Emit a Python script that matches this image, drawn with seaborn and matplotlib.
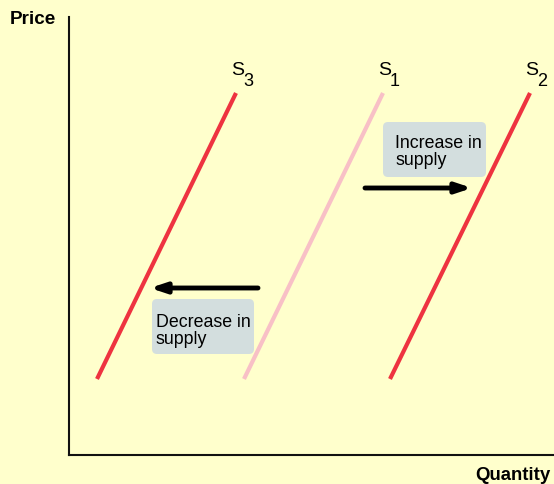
import numpy as np
import pandas as pd
import matplotlib
matplotlib.use('Agg')
import matplotlib.pyplot as plt
import seaborn as sns
from matplotlib.patches import FancyBboxPatch

# supply curves (quantity, price) endpoints
curve_names = ['S3', 'S1', 'S2']
curve_q_low = [28, 175, 321]
curve_q_high = [167, 314, 461]
curve_p_low = [76, 76, 76]
curve_p_high = [362, 362, 362]
curve_subs = ['3', '1', '2']
curve_colors = ['#EE3340', '#F8C0C6', '#EE3340']

# shift arrows: (start q, end q, price)
arrow_q_start = [296, 189]
arrow_q_end = [403, 81]
arrow_p = [267, 167]
box_texts = ['Increase in\nsupply', 'Decrease in\nsupply']

bg = '#FFFFCC'
sns.set_style('white')
plt.rcParams['font.family'] = ['Liberation Sans', 'DejaVu Sans']
plt.rcParams['text.color'] = 'black'

fig = plt.figure(figsize=(5.54, 4.84), dpi=100, facecolor=bg)
ax = fig.add_axes([69 / 554, 29 / 484, 485 / 554, 438 / 484])
ax.set_facecolor(bg)

rows = []
for name, q0, q1, p0, p1 in zip(curve_names, curve_q_low, curve_q_high, curve_p_low, curve_p_high):
    rows.append({'curve': name, 'q': q0, 'p': p0})
    rows.append({'curve': name, 'q': q1, 'p': p1})
df = pd.DataFrame(rows)
sns.lineplot(data=df, x='q', y='p', hue='curve', palette=dict(zip(curve_names, curve_colors)),
             linewidth=3, legend=False, ax=ax, solid_capstyle='butt')

# curve labels: S with a big, low subscript
for sub, q1, p1 in zip(curve_subs, curve_q_high, curve_p_high):
    ax.text(q1 + 2, p1 + 18, 'S', fontsize=14, ha='center', va='baseline')
    ax.text(q1 + 7, p1 + 7, sub, fontsize=13, ha='left', va='baseline')

# arrows
for qs, qe, p in zip(arrow_q_start, arrow_q_end, arrow_p):
    ax.annotate('', xy=(qe, p), xytext=(qs, p),
                arrowprops=dict(arrowstyle='-|>,head_length=0.9,head_width=0.3',
                                color='black', lw=3.5, shrinkA=0, shrinkB=0))

# text boxes (x, y, w, h) and text anchor
boxes = [(314, 278, 103, 55), (83, 101, 102, 55)]
text_pos = [(326, 320), (87, 141)]
for (bx, by, bw, bh), (tx, ty), txt in zip(boxes, text_pos, box_texts):
    ax.add_patch(FancyBboxPatch((bx + 5, by + 5), bw - 10, bh - 10,
                                boxstyle='round,pad=5', fc='#D3DEDE', ec='none'))
    ax.text(tx, ty, txt, fontsize=12.8, va='top', ha='left', linespacing=1.0)

ax.set_xlim(0, 485)
ax.set_ylim(0, 438)
ax.set_xticks([])
ax.set_yticks([])
ax.set_xlabel('')
ax.set_ylabel('')
for s in ['top', 'right']:
    ax.spines[s].set_visible(False)
for s in ['left', 'bottom']:
    ax.spines[s].set_color('#111111')
    ax.spines[s].set_linewidth(1.5)

fig.text(10 / 554, 1 - 20 / 484, 'Price', fontsize=13.6, fontweight='bold', va='center', ha='left')
fig.text(550 / 554, 1 - 475 / 484, 'Quantity', fontsize=13.4, fontweight='bold', va='center', ha='right')

fig.savefig('out.png', dpi=100, facecolor=bg)
